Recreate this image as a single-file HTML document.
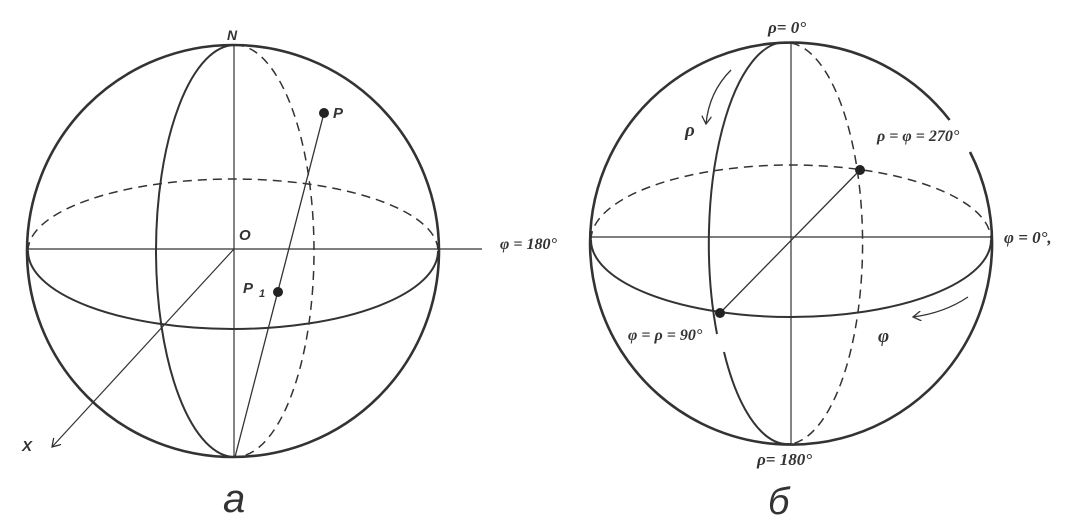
<!DOCTYPE html>
<html><head><meta charset="utf-8"><style>
html,body{margin:0;padding:0;background:#fff;}
svg{display:block}
.t{font-family:"Liberation Serif",serif;font-style:italic;font-weight:bold;fill:#333;}
.s{font-family:"Liberation Sans",sans-serif;font-weight:bold;font-style:italic;fill:#333;}
</style></head><body>
<svg width="1083" height="525" viewBox="0 0 1083 525" xmlns="http://www.w3.org/2000/svg">
<defs><marker id="ah" markerWidth="10" markerHeight="10" refX="8" refY="5" orient="auto" markerUnits="userSpaceOnUse"><path d="M0,0 L8,5 L0,10" fill="none" stroke="#333" stroke-width="1.3"/></marker></defs>
<g fill="none" stroke="#333">
<!-- Left sphere -->
<circle cx="233" cy="251" r="206" stroke-width="2.6"/>
<path d="M28,251 A205,78 0 0 0 438,251" stroke-width="2"/>
<path d="M28,251 A205,72 0 0 1 438,251" stroke-width="1.5" stroke-dasharray="9,6"/>
<path d="M235,45 A79,206 0 0 0 235,457" stroke-width="2"/>
<path d="M235,45 A79,206 0 0 1 235,457" stroke-width="1.5" stroke-dasharray="9,6"/>
<line x1="234" y1="45" x2="234" y2="457" stroke-width="1.2"/>
<line x1="28" y1="249" x2="482" y2="249" stroke-width="1.2"/>
<line x1="324" y1="113" x2="235" y2="457" stroke-width="1.3"/>
<line x1="234" y1="249" x2="52" y2="447" stroke-width="1.2" marker-end="url(#ah)"/>
<!-- Right sphere -->
<path d="M949.6,120 A201,201 0 1 0 970,152" stroke-width="2.6"/>
<path d="M591,240 A200,77 0 0 0 991,240" stroke-width="2"/>
<path d="M591,240 A200,75 0 0 1 991,240" stroke-width="1.5" stroke-dasharray="9,6"/>
<path d="M791,43 A76,201 0 0 0 717,334" stroke-width="2"/>
<path d="M724,352 A76,201 0 0 0 791,444" stroke-width="2"/>
<path d="M791,43 A77,201 0 0 1 791,444" stroke-width="1.5" stroke-dasharray="9,6"/>
<line x1="791" y1="43" x2="791" y2="444" stroke-width="1.2"/>
<line x1="591" y1="237" x2="991" y2="237" stroke-width="1.2"/>
<line x1="860" y1="170" x2="720" y2="313" stroke-width="1.3"/>
<path d="M731,70 Q709,92 706,124" stroke-width="1.3" marker-end="url(#ah)"/>
<path d="M968,297 Q944,313 913,317" stroke-width="1.3" marker-end="url(#ah)"/>
</g>
<g fill="#222">
<circle cx="324" cy="113" r="5"/><circle cx="278" cy="292" r="5"/>
<circle cx="860" cy="170" r="5"/><circle cx="720" cy="313" r="5"/>
</g>
<text class="s" x="227" y="40" font-size="14">N</text>
<text class="s" x="333" y="118" font-size="15">P</text>
<text class="s" x="239" y="240" font-size="15">O</text>
<text class="s" x="243" y="293" font-size="15">P</text><text class="s" x="259" y="297" font-size="11">1</text>
<text class="s" x="22" y="451" font-size="15">X</text>
<text x="223" y="512" font-family="Liberation Sans,sans-serif" font-size="40" font-style="italic" fill="#333">а</text>
<text class="t" x="500" y="249" font-size="16">φ = 180°</text>
<text class="t" x="768" y="33" font-size="17">ρ= 0°</text>
<text class="t" x="685" y="136" font-size="19">ρ</text>
<text class="t" x="877" y="141" font-size="16">ρ = φ = 270°</text>
<text class="t" x="1004" y="243" font-size="17">φ = 0°,</text>
<text class="t" x="628" y="340" font-size="16">φ = ρ = 90°</text>
<text class="t" x="878" y="342" font-size="19">φ</text>
<text class="t" x="757" y="465" font-size="17">ρ= 180°</text>
<text x="768" y="514" font-family="Liberation Sans,sans-serif" font-size="38" font-style="italic" fill="#333">б</text>
</svg>
</body></html>
